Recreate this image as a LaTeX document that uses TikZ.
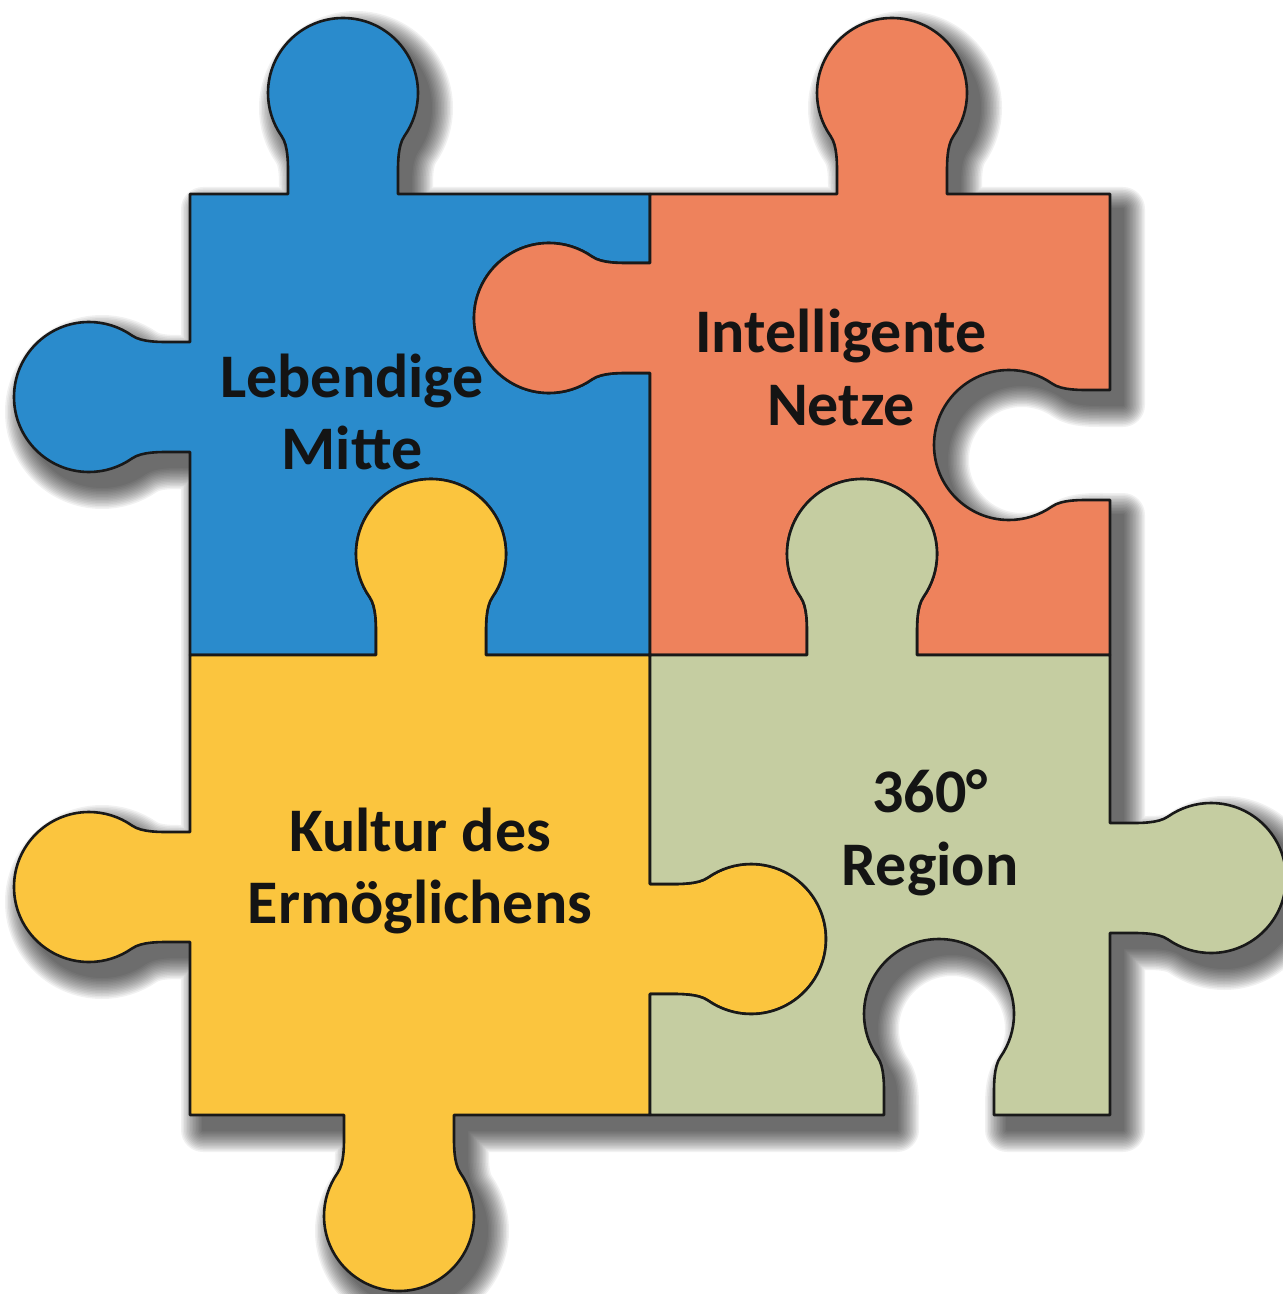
\documentclass[tikz,border=0pt]{standalone}
\usepackage{fontspec}
\setmainfont{Carlito}
\definecolor{pblue}{RGB}{42,139,204}
\definecolor{porange}{RGB}{238,130,92}
\definecolor{pyellow}{RGB}{251,197,62}
\definecolor{pgreen}{RGB}{197,205,161}
\tikzset{
 kn/.style n args={6}{insert path={
  -- ({#1+(-55)*(#3)+(0)*(#5)},{#2+(-55)*(#4)+(0)*(#6)})
  -- ({#1+(-55)*(#3)+(18)*(#5)},{#2+(-55)*(#4)+(18)*(#6)})
  .. controls ({#1+(-55)*(#3)+(30)*(#5)},{#2+(-55)*(#4)+(30)*(#6)})
  and ({#1+(-54.56)*(#3)+(48.15)*(#5)},{#2+(-54.56)*(#4)+(48.15)*(#6)})
  .. ({#1+(-61.44)*(#3)+(57.98)*(#5)},{#2+(-61.44)*(#4)+(57.98)*(#6)})
  .. controls ({#1+(-70.27)*(#3)+(70.6)*(#5)},{#2+(-70.27)*(#4)+(70.6)*(#6)})
  and ({#1+(-75)*(#3)+(85.6)*(#5)},{#2+(-75)*(#4)+(85.6)*(#6)})
  .. ({#1+(-75)*(#3)+(101)*(#5)},{#2+(-75)*(#4)+(101)*(#6)})
  .. controls ({#1+(-75)*(#3)+(142.4)*(#5)},{#2+(-75)*(#4)+(142.4)*(#6)})
  and ({#1+(-41.4)*(#3)+(176)*(#5)},{#2+(-41.4)*(#4)+(176)*(#6)})
  .. ({#1+(0)*(#3)+(176)*(#5)},{#2+(0)*(#4)+(176)*(#6)})
  .. controls ({#1+(41.4)*(#3)+(176)*(#5)},{#2+(41.4)*(#4)+(176)*(#6)})
  and ({#1+(75)*(#3)+(142.4)*(#5)},{#2+(75)*(#4)+(142.4)*(#6)})
  .. ({#1+(75)*(#3)+(101)*(#5)},{#2+(75)*(#4)+(101)*(#6)})
  .. controls ({#1+(75)*(#3)+(85.6)*(#5)},{#2+(75)*(#4)+(85.6)*(#6)})
  and ({#1+(70.27)*(#3)+(70.6)*(#5)},{#2+(70.27)*(#4)+(70.6)*(#6)})
  .. ({#1+(61.44)*(#3)+(57.98)*(#5)},{#2+(61.44)*(#4)+(57.98)*(#6)})
  .. controls ({#1+(54.56)*(#3)+(48.15)*(#5)},{#2+(54.56)*(#4)+(48.15)*(#6)})
  and ({#1+(55)*(#3)+(30)*(#5)},{#2+(55)*(#4)+(30)*(#6)})
  .. ({#1+(55)*(#3)+(18)*(#5)},{#2+(55)*(#4)+(18)*(#6)})
  -- ({#1+(55)*(#3)+(0)*(#5)},{#2+(55)*(#4)+(0)*(#6)})
 }},
 allpath/.style={insert path={(190,194) [kn={343}{194}{1}{0}{0}{-1}] -- (650,194)
   [kn={892}{194}{1}{0}{0}{-1}] -- (1110,194) [kn={1110}{445}{0}{1}{-1}{0}] -- (1110,655)
   [kn={1110}{878}{0}{1}{1}{0}] -- (1110,1115) [kn={939}{1115}{-1}{0}{0}{-1}] -- (650,1115)
   [kn={399}{1115}{-1}{0}{0}{1}] -- (190,1115) [kn={190}{887}{0}{-1}{-1}{0}] -- (190,655)
   [kn={190}{397}{0}{-1}{-1}{0}] -- cycle}},
 bluepath/.style={insert path={(190,194) [kn={343}{194}{1}{0}{0}{-1}] -- (650,194)
   [kn={650}{318}{0}{1}{-1}{0}] -- (650,655) [kn={431}{655}{-1}{0}{0}{-1}] -- (190,655)
   [kn={190}{397}{0}{-1}{-1}{0}] -- cycle}},
 orangepath/.style={insert path={(650,194) [kn={892}{194}{1}{0}{0}{-1}] -- (1110,194)
   [kn={1110}{445}{0}{1}{-1}{0}] -- (1110,655) [kn={862}{655}{-1}{0}{0}{-1}] -- (650,655)
   [kn={650}{318}{0}{-1}{-1}{0}] -- cycle}},
 yellowpath/.style={insert path={(190,655) [kn={431}{655}{1}{0}{0}{-1}] -- (650,655)
   [kn={650}{939}{0}{1}{1}{0}] -- (650,1115) [kn={399}{1115}{-1}{0}{0}{1}] -- (190,1115)
   [kn={190}{887}{0}{-1}{-1}{0}] -- cycle}},
 greenpath/.style={insert path={(650,655) [kn={862}{655}{1}{0}{0}{-1}] -- (1110,655)
   [kn={1110}{878}{0}{1}{1}{0}] -- (1110,1115) [kn={939}{1115}{-1}{0}{0}{-1}] -- (650,1115)
   [kn={650}{939}{0}{-1}{1}{0}] -- cycle}},
 piece/.style={draw=black!90, line width=1.3pt, line join=round},
 lbl/.style={anchor=base, inner sep=0pt, text=black!92,
   font=\fontsize{31}{36}\selectfont\bfseries}
}
\begin{document}
\begin{tikzpicture}[x=0.5pt, y=-0.5pt]
\useasboundingbox (0,0) rectangle (1282,1294);
% drop shadow (soft, built from stacked translucent layers)
\foreach \w in {44,41,38,35,32,29,26,23,20,17,14,11,8,5,2}{
  \begin{scope}[transparency group, opacity=0.055]
    \path[fill=black, draw=black, line width=\w*0.5pt, line join=round,
          shift={(13,15)}, allpath];
  \end{scope}
}
% pieces
\path[piece, fill=pblue, bluepath];
\path[piece, fill=porange, orangepath];
\path[piece, fill=pyellow, yellowpath];
\path[piece, fill=pgreen, greenpath];
% labels
\node[lbl] (b1) at (352,397) {Lebendige};
\node[lbl] (b2) at (352,469) {Mitte};
\node[lbl] (o1) at (841,352) {Intelligente};
\node[lbl] (o2) at (841,425) {Netze};
\node[lbl] (y1) at (420,851) {Kultur des};
\node[lbl] (y2) at (420,923) {Ermöglichens};
\node[lbl] (g1) at (930,812) {360°};
\node[lbl] (g2) at (930,885) {Region};
\end{tikzpicture}
\end{document}
